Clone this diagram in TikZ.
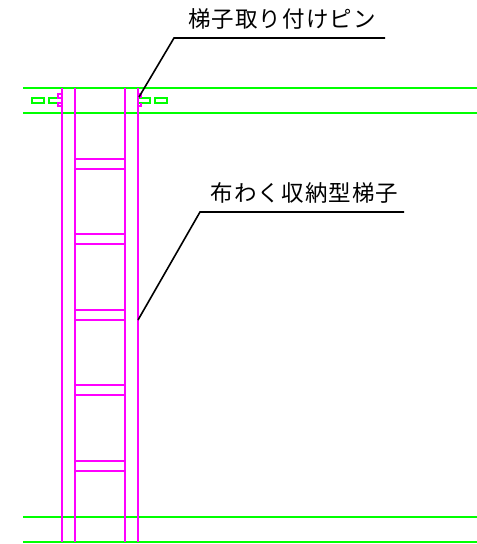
\documentclass[tikz,border=0pt]{standalone}
\usepackage{fontspec}
\newfontfamily\jpfont[LetterSpace=4.5]{Noto Sans CJK JP}
\definecolor{magenta}{RGB}{255,0,255}
\definecolor{green}{RGB}{0,255,0}
\tikzset{
  greenline/.style={draw=green,line width=1.8pt},
  slot/.style={draw=green,line width=2.4pt},
  magline/.style={draw=magenta,line width=1.8pt},
  leader/.style={draw=black,line width=1.6pt},
  lab/.style={font=\jpfont\fontsize{22.5}{26}\selectfont,text=black,inner sep=0pt,anchor=center}
}
\begin{document}
\begin{tikzpicture}[x=1pt,y=-1pt]
\useasboundingbox (0,0) rectangle (477,544);
% green beams
\foreach \yy in {88,113,517,542}
  \draw[greenline] (23,\yy) -- (477,\yy);
% slots
\draw[slot] (32,98) rectangle (44,103);
\draw[slot] (49,98) rectangle (62,103);
\draw[slot] (138,98) rectangle (150,103);
\draw[slot] (155,98) rectangle (167,103);
% ladder
\foreach \xx in {62,75,125,138}
  \draw[magline] (\xx,88) -- (\xx,542);
\foreach \yy in {159,169,234,244,310,320,385,395,461,471}
  \draw[magline] (75,\yy) -- (125,\yy);
% pins
\draw[magline] (62,94) -- (58,94) -- (58,98) -- (62,98);
\draw[magline] (62,103) -- (58,103) -- (58,106) -- (62,106);
\draw[magline] (138,94) -- (141,94) -- (141,98);
\draw[magline] (141,103) -- (141,106) -- (138,106);
% labels and leaders
\node[lab] (pinlabel) at (282,19) {梯子取り付けピン};
\node[lab] (laddertext) at (304.5,193) {布わく収納型梯子};
\coordinate (pinend) at (139,97);
\coordinate (pinknee) at (174,38);
\coordinate (pinfree) at (385,38);
\coordinate (ladend) at (138,320);
\coordinate (ladknee) at (200,212);
\coordinate (ladfree) at (404,212);
\draw[leader] (pinend) -- (pinknee) -- (pinfree);
\draw[leader] (ladend) -- (ladknee) -- (ladfree);
\end{tikzpicture}
\end{document}
